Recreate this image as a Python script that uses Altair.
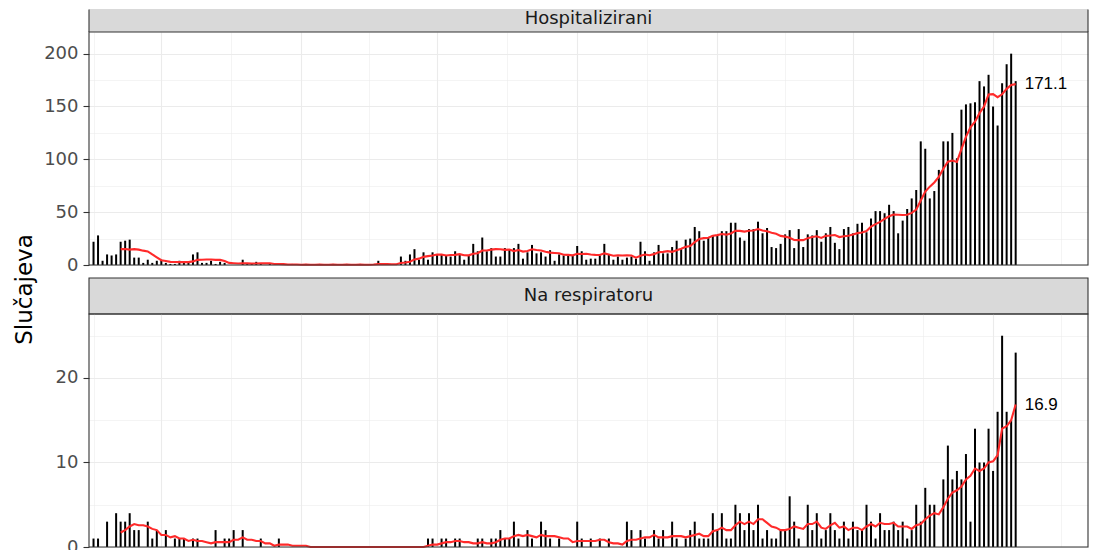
import altair as alt
import pandas as pd

# ---------------- data ----------------
start_date = "2020-04-16"
panel_titles = ["Hospitalizirani", "Na respiratoru"]
y_title = "Slučajeva"

hospitalizirani = [
    22, 28, 4, 10, 9, 10, 22, 23, 24, 7, 7, 2, 5, 2, 4, 5, 2, 1, 1, 4, 3, 3, 10, 12, 2, 2, 4, 1, 3, 2, 0, 0, 0, 5, 1, 1, 3,
    1, 0, 1, 0, 1, 0, 0, 1, 0, 0, 1, 0, 0, 1, 0, 0, 1, 0, 0, 1, 0, 0, 1, 0, 0, 1,
    4,
    0, 0, 0, 0,
    8, 4, 10, 15, 5, 12, 5, 12, 10, 10, 9, 8, 13, 10, 5, 9, 20, 13, 26, 13, 16, 8, 8, 16, 15, 16, 20, 6, 12, 19,
    11, 12, 8, 14, 4, 10, 9, 10, 9, 18, 13, 5, 6, 6, 9, 20, 10, 5, 8, 5, 7, 8, 6, 22, 13, 4, 12, 19, 11, 11, 17, 23,
    15, 24, 25, 36, 32, 23, 26, 28, 28, 32, 32, 40, 40, 26, 23, 34, 34, 41, 30, 35, 17, 16, 20, 29, 33, 16, 34, 17,
    29, 28, 33, 22, 30, 36, 21, 15,
    34, 36, 30, 39, 40, 31, 44, 51, 51, 49, 57, 51, 30, 42, 53, 63, 71, 117, 110, 63, 70, 90, 117, 117, 125, 101,
    147, 152, 153, 154, 174, 169, 180, 150, 132, 172, 190, 200, 174,
]

na_respiratoru = [
    1, 1, 0, 3, 0, 4, 3, 3, 4, 2, 2, 0, 3, 1, 2, 0, 2, 0, 1, 1, 1, 0, 1, 1, 0, 0, 0, 2, 0, 1, 1, 2, 0, 2, 0, 0, 0, 1,
    0, 0, 0, 1,
    0, 0, 0, 0, 0, 0, 0, 0, 0, 0, 0, 0, 0, 0, 0, 0, 0, 0, 0, 0, 0, 0, 0, 0, 0, 0, 0, 0, 0, 0, 0, 0,
    1, 1, 0, 1, 1, 0, 1, 1, 0, 0, 0, 1, 1, 0, 1, 1, 2, 1, 1, 3, 1, 0, 2, 1, 0, 3, 2, 1, 0, 1, 0, 0, 0, 3, 1, 0, 1,
    0, 1, 0, 1, 0, 0, 0, 3, 2, 0, 2, 1, 0, 2, 1, 2, 0, 3, 1, 0, 1, 2, 3, 1,
    1, 1, 4, 2, 4, 1, 1, 5, 4, 2, 4, 2, 5, 1, 2, 1, 1, 2, 2, 6, 3, 1, 0, 5, 2, 4, 1, 2, 4, 2, 1,
    3, 1, 3, 2, 2, 5, 3, 1, 4, 2, 2, 3, 2, 3, 1, 2, 5, 3, 7, 5, 5, 0, 8, 12, 8, 9, 8, 11, 3, 14, 10, 10, 14, 9,
    16, 25, 16, 15, 23,
]

x_limits = ["2020-04-15", "2020-11-22"]
x_major = ["2020-05-01", "2020-06-01", "2020-07-01", "2020-08-01", "2020-09-01", "2020-10-01", "2020-11-01"]
x_minor = ["2020-04-16", "2020-05-16T12:00", "2020-06-16", "2020-07-16T12:00", "2020-08-16T12:00",
           "2020-09-16", "2020-10-16T12:00", "2020-11-16"]
y_limits = [220.5, 27.57]
y_breaks = [[0, 25, 50, 75, 100, 125, 150, 175, 200], [0, 5, 10, 15, 20, 25]]
y_major_step = [50, 10]


def ms(s):
    return int(pd.Timestamp(s).value // 10**6)


dates = pd.date_range(start_date, periods=len(hospitalizirani), freq="D")
t_ms = [int(v // 10**6) for v in dates.asi8]

# ---------------- style ----------------
W, H = 999, 233
GRID = "#EBEBEB"
DARK = "#333333"
RED = "#FF2A2A"
FONT = "DejaVu Sans"


def panel(values, ymax, breaks, step, title=None):
    df = pd.DataFrame({"t": t_ms, "v": values})
    major = f"datum.value % {step} === 0"
    x_axis = alt.Axis(
        values=[ms(d) for d in x_major + x_minor], labels=False, ticks=False, domain=False, title=None,
        grid=True, gridColor=GRID,
        gridWidth={"condition": {"test": "utcdate(datum.value) === 1", "value": 1.1}, "value": 0.55},
    )
    ax = dict(
        values=breaks, grid=True, gridColor=GRID,
        gridWidth={"condition": {"test": major, "value": 1.1}, "value": 0.55},
        labelExpr=f"{major} ? datum.label : ''",
        tickOpacity={"condition": {"test": major, "value": 1}, "value": 0},
        tickColor=DARK, tickWidth=1.1, tickSize=6, labelPadding=5,
        labelFont=FONT, labelFontSize=18, labelColor="#4D4D4D",
        labelFlush=False, labelOverlap=False, domain=False,
    )
    if title:
        ax.update(title=title, titleFont=FONT, titleFontSize=23, titleFontWeight="normal", titleColor="black",
                  titleAngle=270, titleAlign="center", titleBaseline="alphabetic", titleX=-58, titleY=257)
    else:
        ax.update(title=None)
    y_axis = alt.Axis(**ax)
    x_scale = alt.Scale(domain=[ms(x_limits[0]), ms(x_limits[1])], nice=False, padding=0)
    y_scale = alt.Scale(domain=[0, ymax], nice=False, zero=True, padding=0)

    def xe():
        return alt.X("t:T", scale=x_scale, axis=x_axis)

    def ye(field):
        return alt.Y(f"{field}:Q", scale=y_scale, axis=y_axis)

    base = alt.Chart(df)
    bars = base.mark_bar(width=2, color="black").encode(x=xe(), y=ye("v"))

    avg = base.transform_window(
        ma="mean(v)", n="count()", frame=[-6, 0], sort=[alt.SortField("t", order="ascending")]
    ).transform_filter("datum.n >= 7")
    line = avg.mark_line(color=RED, strokeWidth=2.1).encode(x=xe(), y=ye("ma"))
    label = avg.transform_filter(f"time(datum.t) === {t_ms[-1]}").mark_text(
        align="left", baseline="middle", dx=9, font="Liberation Sans", fontSize=17, color="black"
    ).encode(x=xe(), y=ye("ma"), text=alt.Text("ma:Q", format=".1f"))

    border = alt.Chart(pd.DataFrame({"b": [0]})).mark_rect(
        fillOpacity=0, stroke=DARK, strokeWidth=1.1
    ).encode(x=alt.value(0), x2=alt.value(W), y=alt.value(0), y2=alt.value(H))
    return alt.layer(bars, line, label, border).properties(width=W, height=H)


def strip(name, h, top, text_y, pad=False, top_border=True):
    d = alt.Chart(pd.DataFrame({"label": [name]}))
    layers = []
    if pad:
        layers.append(d.mark_rect(fill="white").encode(
            x=alt.value(-80), x2=alt.value(0), y=alt.value(0), y2=alt.value(h)))
    if top_border:
        layers.append(d.mark_rect(fill="#D9D9D9", stroke=DARK, strokeWidth=1.1).encode(
            x=alt.value(0), x2=alt.value(W), y=alt.value(top), y2=alt.value(h)))
    else:
        layers.append(d.mark_rect(fill="#D9D9D9", strokeWidth=0).encode(
            x=alt.value(0), x2=alt.value(W), y=alt.value(top), y2=alt.value(h)))
        for xv in (0, W):
            layers.append(d.mark_rule(color=DARK, strokeWidth=1.1).encode(
                x=alt.value(xv), y=alt.value(top + 0.6), y2=alt.value(h)))
    layers.append(d.mark_text(font=FONT, fontSize=18, color="#1A1A1A", align="center", baseline="alphabetic").encode(
        x=alt.value(W / 2), y=alt.value(text_y), text="label:N"))
    return alt.layer(*layers).properties(width=W, height=h)


strip1 = strip(panel_titles[0], 23, 0, 15.0, pad=True, top_border=False)
panel1 = panel(hospitalizirani, y_limits[0], y_breaks[0], y_major_step[0], title=y_title)
strip2 = strip(panel_titles[1], 49, 13, 36)
panel2 = panel(na_respiratoru, y_limits[1], y_breaks[1], y_major_step[1])

chart = alt.vconcat(strip1, panel1, strip2, panel2, spacing=0, bounds="flush").properties(
    padding=0, background="white"
).configure_view(stroke="transparent")

chart.save("out.html", embed_options={"renderer": "svg", "actions": False})
